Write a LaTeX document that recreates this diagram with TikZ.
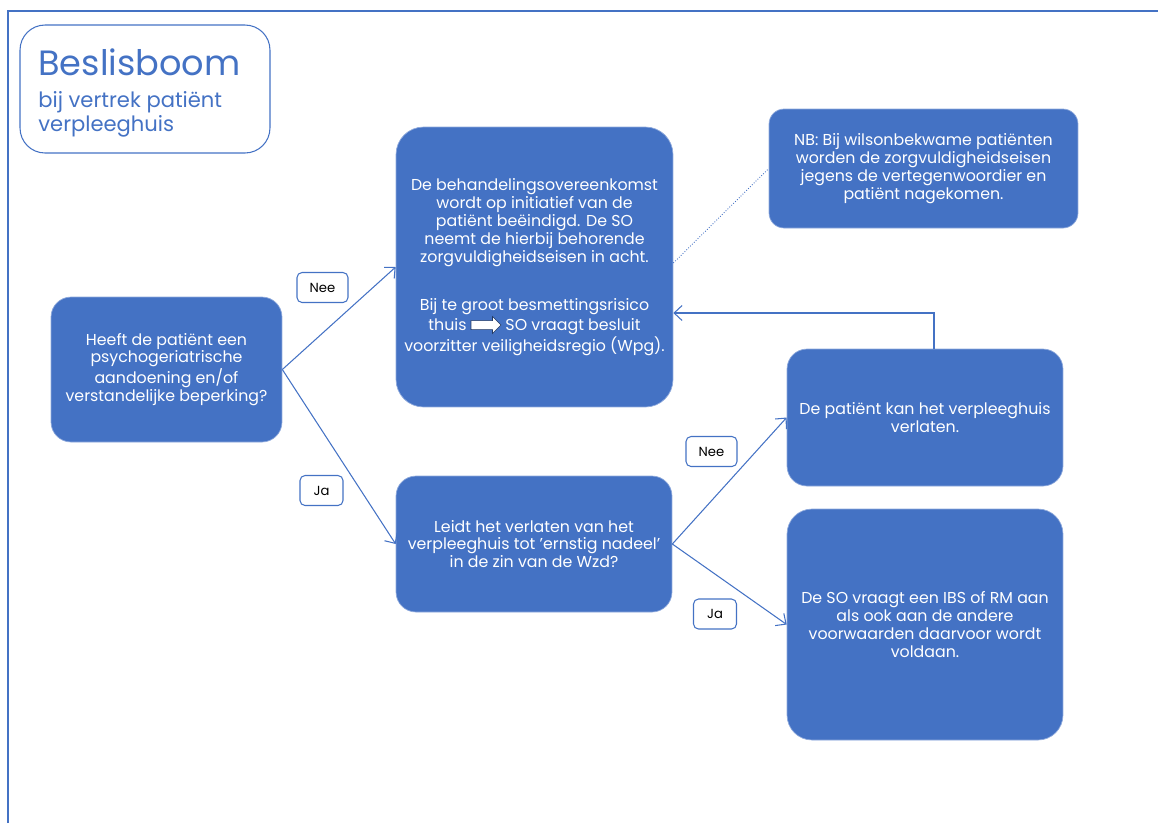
\documentclass[tikz,border=0pt]{standalone}
\usepackage{fontspec}
\setmainfont{Poppins}
\usetikzlibrary{arrows.meta,positioning,shapes.arrows}
\definecolor{OfficeBlue}{RGB}{68,114,196}

\begin{document}
\begin{tikzpicture}[x=0.02cm,y=-0.02cm,
  blok/.style={rectangle,rounded corners=0.4cm,fill=OfficeBlue,draw=OfficeBlue!60!white,
    text=white,align=center,font=\fontsize{9}{10.2}\selectfont},
  keuze/.style={rectangle,rounded corners=0.1cm,draw=OfficeBlue,line width=0.6pt,fill=white,
    font=\fontsize{7.5}{9}\selectfont,minimum height=0.6cm},
  pijl/.style={OfficeBlue,line width=0.6pt,-{Straight Barb[length=1.6mm,width=3mm]}}]
  \useasboundingbox (0,0) rectangle (1158,823);
  \draw[OfficeBlue,line width=1.2pt] (8,823) -- (8,11) -- (1158,11);

  \node[rectangle,rounded corners=0.5cm,draw=OfficeBlue,line width=0.6pt,
    minimum width=5cm,minimum height=2.56cm] (titelkader) at (145,89) {};
  \node[anchor=base west,inner sep=0pt,text=OfficeBlue,font=\fontsize{20}{24}\selectfont]
    (titel) at (38,75) {Beslisboom};
  \node[anchor=base west,inner sep=0pt,text=OfficeBlue,font=\fontsize{12}{14}\selectfont]
    (subtitel1) at (38,107) {bij vertrek patiënt};
  \node[anchor=base west,inner sep=0pt,text=OfficeBlue,font=\fontsize{12}{14}\selectfont]
    (subtitel2) at (38,131) {verpleeghuis};

  \node[blok,minimum width=4.62cm,minimum height=2.9cm] (vraag1) at (166.5,369.5)
    {Heeft de patiënt een\\psychogeriatrische\\aandoening en/of\\verstandelijke beperking?};
  \node[blok,rounded corners=0.55cm,minimum width=5.54cm,minimum height=5.6cm] (beeindigd) at (534.5,267)
    {De behandelingsovereenkomst\\wordt op initiatief van de\\patiënt beëindigd. De SO\\neemt de hierbij behorende\\zorgvuldigheidseisen in acht.\\[1.9em]
     Bij te groot besmettingsrisico\\thuis \tikz[baseline=-0.6ex,x=1cm,y=1cm]\node[single arrow,fill=white,draw=OfficeBlue!50!black,
       line width=0.3pt,rounded corners=0pt,minimum height=0.6cm,minimum width=0.34cm,inner xsep=0pt,inner ysep=0.07cm,
       single arrow head extend=0.07cm] (pijltje) {}; SO vraagt besluit\\voorzitter veiligheidsregio (Wpg).};
  \node[blok,rounded corners=0.3cm,minimum width=6.18cm,minimum height=2.38cm] (nb) at (923.5,168.5)
    {NB: Bij wilsonbekwame patiënten\\worden de zorgvuldigheidseisen\\jegens de vertegenwoordier en\\patiënt nagekomen.};
  \node[blok,minimum width=5.52cm,minimum height=2.72cm] (vraag2) at (534,544)
    {Leidt het verlaten van het\\verpleeghuis tot 'ernstig nadeel'\\in de zin van de Wzd?};
  \node[blok,minimum width=5.52cm,minimum height=2.74cm] (verlaten) at (925,417.5)
    {De patiënt kan het verpleeghuis\\verlaten.};
  \node[blok,rounded corners=0.5cm,minimum width=5.52cm,minimum height=4.62cm] (ibs) at (925,624.5)
    {De SO vraagt een IBS of RM aan\\als ook aan de andere\\voorwaarden daarvoor wordt\\voldaan.};

  \draw[pijl] (vraag1.east) -- (beeindigd.west);
  \draw[pijl] (vraag1.east) -- (vraag2.west);
  \draw[pijl] (vraag2.east) -- (verlaten.west);
  \draw[pijl] (vraag2.east) -- (ibs.west);
  \draw[pijl] ([xshift=0.18cm]verlaten.north) |- ([yshift=-0.92cm]beeindigd.east);
  \draw[OfficeBlue,densely dotted,line width=0.5pt] ([yshift=0.08cm]beeindigd.east) -- (nb.west);

  \node[keuze,minimum width=1.02cm] (nee1) at (322.5,287.5) {Nee};
  \node[keuze,minimum width=0.86cm] (ja1) at (321.5,490.5) {Ja};
  \node[keuze,minimum width=1.02cm] (nee2) at (711.5,451.5) {Nee};
  \node[keuze,minimum width=0.86cm] (ja2) at (715,614) {Ja};
\end{tikzpicture}
\end{document}
